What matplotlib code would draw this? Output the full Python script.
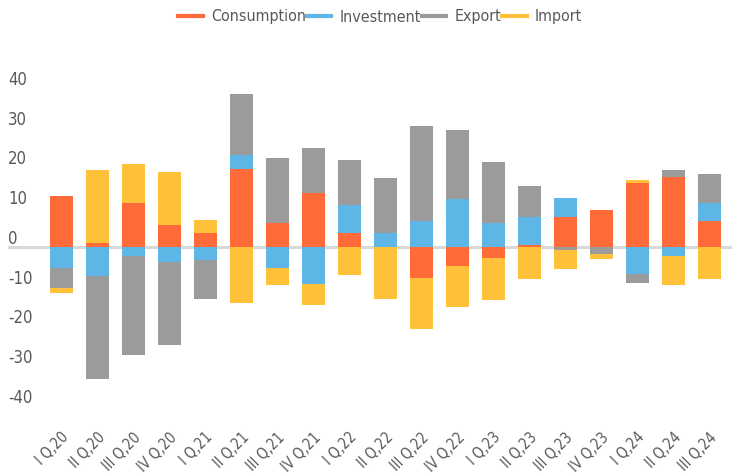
import numpy as np
import matplotlib.pyplot as plt
from matplotlib.lines import Line2D
from matplotlib.transforms import ScaledTranslation, blended_transform_factory

plt.rcParams['font.family'] = ['DejaVu Sans']
plt.rcParams['font.stretch'] = 'condensed'

quarters = ["I Q,20", "II Q,20", "III Q,20", "IV Q,20",
            "I Q,21", "II Q,21", "III Q,21", "IV Q,21",
            "I Q,22", "II Q,22", "III Q,22", "IV Q,22",
            "I Q,23", "II Q,23", "III Q,23", "IV Q,23",
            "I Q,24", "II Q,24", "III Q,24"]

consumption = [12.9, 1.1, 11.2, 5.6, 3.6, 19.7, 6.1, 13.7, 3.6, 0.0,
               -7.7, -4.7, -2.7, 0.6, 7.6, 9.4, 16.2, 17.7, 6.6]
investment = [-5.1, -7.2, -2.2, -3.6, -3.2, 3.55, -5.1, -9.2, 7.05, 3.6,
              6.6, 12.2, 6.1, 7.0, 4.8, 0.0, -6.7, -2.2, 4.55]
export = [-5.15, -25.9, -24.9, -20.9, -9.7, 15.35, 16.4, 11.3, 11.35, 13.85,
          23.95, 17.35, 15.4, 7.8, -0.7, -1.7, -2.3, 1.8, 7.3]
imports = [-1.15, 18.4, 9.8, 13.4, 3.3, -13.95, -4.3, -5.25, -6.9, -12.9,
           -12.8, -10.25, -10.7, -8.0, -4.8, -1.25, 0.75, -7.3, -8.0]

series_names = ["Consumption", "Investment", "Export", "Import"]
colors = ["#FF6A39", "#5DB6E5", "#9B9B9B", "#FEC139"]
y_ticks = [40, 30, 20, 10, 0, -10, -20, -30, -40]
grey = "#595959"

fig = plt.figure(figsize=(7.32, 4.74), dpi=100)
W, H = 732, 474
ax = fig.add_axes([8 / W, 1 - 410 / H, 1 - 8 / W, (410 - 50) / H])

x = np.arange(len(quarters))
pos_base = np.zeros(len(x))
neg_base = np.zeros(len(x))
for vals, col in zip([consumption, investment, export, imports], colors):
    v = np.array(vals)
    bottom = np.where(v >= 0, pos_base, neg_base)
    ax.bar(x, v, width=0.64, bottom=bottom, color=col, zorder=2)
    pos_base += np.clip(v, 0, None)
    neg_base += np.clip(v, None, 0)

ax.axhline(0, color="#D9D9D9", lw=2.2, zorder=1)

ax.set_xlim((8 - 61.5) / 36, (732 - 61.5) / 36)
ax.set_ylim(-(410 - 247.3) / 3.97, (247.3 - 50) / 3.97)
ax.set_xticks([])
ax.set_yticks([])
for s in ax.spines.values():
    s.set_visible(False)

# y labels sit a little above their ticks
ytr = blended_transform_factory(ax.transAxes, ax.transData) + \
    ScaledTranslation(0, 8.5 / 100, fig.dpi_scale_trans)
for t in y_ticks:
    ax.text(0, t, str(t), transform=ytr, ha="left", va="center",
            fontsize=12, color=grey)

xtr = blended_transform_factory(ax.transData, ax.transAxes) + \
    ScaledTranslation(5 / 100, -25 / 100, fig.dpi_scale_trans)
for xi, lab in zip(x, quarters):
    ax.text(xi, 0, lab, transform=xtr, rotation=45, rotation_mode="anchor",
            ha="right", va="center", fontsize=10.5, color=grey)

handles = [Line2D([], [], color=c, lw=3) for c in colors]
leg = fig.legend(handles, series_names, loc="center", ncol=4,
                 bbox_to_anchor=(380 / W, 1 - 17 / H), frameon=False,
                 fontsize=11.5, handlelength=1.55, handletextpad=0.5,
                 columnspacing=0.05)
for t in leg.get_texts():
    t.set_color(grey)

fig.savefig("out.png", dpi=100)
